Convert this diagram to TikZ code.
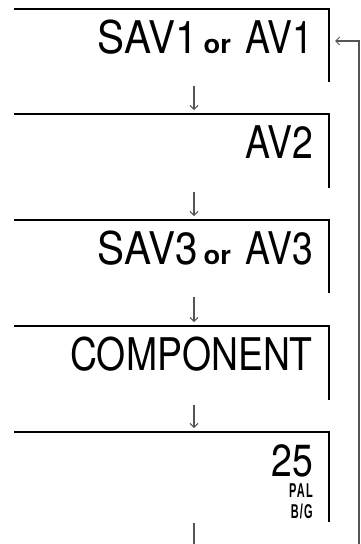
\documentclass[tikz,border=0pt]{standalone}
\usepackage{fontspec}
\setmainfont{TeX Gyre Heros}[FakeStretch=0.83]
\newfontfamily\widefont[FakeStretch=0.9]{TeX Gyre Heros}
\newfontfamily\orfont[FakeStretch=1.05]{TeX Gyre Heros Bold}
\newfontfamily\narrowfont[FakeStretch=0.55,LetterSpace=6]{Liberation Sans Bold}
\usetikzlibrary{arrows.meta}
\definecolor{flowgray}{HTML}{555555}
\begin{document}
\begin{tikzpicture}[x=1pt,y=-1pt,
  boxline/.style={line width=1.5pt,black},
  flowarrow/.style={line width=1.1pt,flowgray,-{Straight Barb[length=4pt,width=8pt,line width=1pt]}},
  flowline/.style={line width=1.3pt,flowgray},
  bigtext/.style={anchor=base east,inner sep=0pt,font=\fontsize{45}{45}\selectfont},
  smalltext/.style={anchor=base east,inner sep=0pt,text height=13pt,text depth=0pt,font=\narrowfont\fontsize{20}{20}\selectfont}]
\useasboundingbox (0,0) rectangle (361,544);
\fill[white] (0,0) rectangle (361,544);
% boxes (top line and right side)
\foreach \t/\b in {9/82,114/188,220/293,326/400,432/522}{
  \draw[boxline] (14,\t) -- (329,\t) -- (329,\b);
}
% texts
\node[bigtext] (b1) at (313,53.3) {{\widefont SAV1}\hspace{6pt}{\orfont\fontsize{26}{26}\selectfont or}\hspace{14pt}AV1};
\node[bigtext] (b2) at (313,158.3) {AV2};
\node[bigtext] (b3) at (313,264.3) {{\widefont SAV3}\hspace{6pt}{\orfont\fontsize{26}{26}\selectfont or}\hspace{14pt}AV3};
\node[bigtext] (b4) at (313,370.5) {COMPONENT};
\node[bigtext,text depth=0pt] (b5) at (313,476.5) {25};
\node[smalltext] (pal) at (313,497) {PAL};
\node[smalltext] (bg) at (313,518) {B/G};
% connector coordinates
\coordinate (a1s) at (194,86);  \coordinate (a1e) at (194,110);
\coordinate (a2s) at (194,192); \coordinate (a2e) at (194,216);
\coordinate (a3s) at (194,297); \coordinate (a3e) at (194,322);
\coordinate (a4s) at (194,405); \coordinate (a4e) at (194,428);
\coordinate (a5s) at (194,523); \coordinate (a5e) at (194,544);
\coordinate (loopb) at (359,544);
\coordinate (loopt) at (359,41);
\coordinate (loope) at (335,41);
\draw[flowarrow] (a1s) -- (a1e);
\draw[flowarrow] (a2s) -- (a2e);
\draw[flowarrow] (a3s) -- (a3e);
\draw[flowarrow] (a4s) -- (a4e);
\draw[flowline] (a5s) -- (a5e);
\draw[flowarrow] (loopb) -- (loopt) -- (loope);
\end{tikzpicture}
\end{document}
